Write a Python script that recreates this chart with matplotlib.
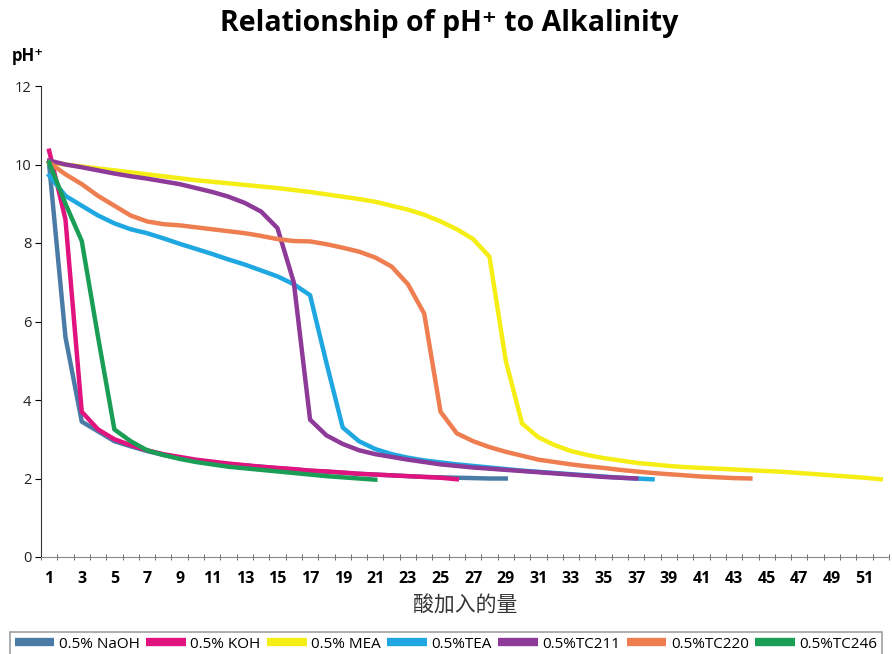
import numpy as np
import matplotlib
matplotlib.use('Agg')
import matplotlib.pyplot as plt

plt.rcParams['font.family'] = ['Open Sans', 'DejaVu Sans', 'Noto Sans CJK SC']

# pH readings per acid addition step (categories 1..n)
naoh = [10.0, 5.6, 3.45, 3.2, 2.95, 2.82, 2.7, 2.6, 2.52, 2.46, 2.41, 2.37, 2.33, 2.3, 2.26,
        2.23, 2.2, 2.17, 2.15, 2.12, 2.1, 2.08, 2.06, 2.04, 2.03, 2.02, 2.01, 2.0, 2.0]
koh = [10.35, 8.6, 3.7, 3.25, 3.0, 2.85, 2.72, 2.62, 2.55, 2.48, 2.43, 2.38, 2.34, 2.3, 2.27,
       2.24, 2.2, 2.18, 2.15, 2.12, 2.1, 2.08, 2.06, 2.04, 2.02, 1.98]
mea = [10.05, 10.0, 9.95, 9.9, 9.85, 9.8, 9.75, 9.7, 9.65, 9.6, 9.56, 9.52, 9.48, 9.44, 9.4,
       9.35, 9.3, 9.24, 9.18, 9.12, 9.05, 8.95, 8.85, 8.72, 8.55, 8.35, 8.1, 7.65, 5.0, 3.4,
       3.05, 2.85, 2.7, 2.6, 2.52, 2.46, 2.4, 2.36, 2.32, 2.29, 2.27, 2.25, 2.23, 2.21, 2.19,
       2.17, 2.14, 2.11, 2.08, 2.05, 2.02, 1.98]
tea = [9.72, 9.2, 8.95, 8.7, 8.5, 8.35, 8.25, 8.12, 7.98, 7.85, 7.72, 7.58, 7.45, 7.3, 7.15,
       6.95, 6.67, 4.95, 3.3, 2.95, 2.75, 2.62, 2.53, 2.46, 2.41, 2.36, 2.32, 2.28, 2.24, 2.2,
       2.17, 2.14, 2.11, 2.08, 2.05, 2.02, 2.0, 1.98]
tc211 = [10.1, 10.0, 9.93, 9.85, 9.77, 9.7, 9.64, 9.57, 9.5, 9.4, 9.3, 9.18, 9.02, 8.8, 8.38,
         7.0, 3.5, 3.1, 2.88, 2.72, 2.62, 2.55, 2.48, 2.42, 2.36, 2.32, 2.28, 2.25, 2.22, 2.19,
         2.16, 2.13, 2.1, 2.07, 2.04, 2.02, 2.0]
tc220 = [10.05, 9.75, 9.5, 9.2, 8.95, 8.7, 8.55, 8.48, 8.45, 8.4, 8.35, 8.3, 8.25, 8.18, 8.1,
         8.05, 8.04, 7.97, 7.88, 7.78, 7.63, 7.4, 6.95, 6.2, 3.7, 3.15, 2.95, 2.8, 2.68, 2.58,
         2.48, 2.42, 2.36, 2.31, 2.27, 2.22, 2.18, 2.14, 2.11, 2.08, 2.05, 2.03, 2.01, 2.0]
tc246 = [10.05, 9.0, 8.05, 5.6, 3.25, 2.95, 2.72, 2.6, 2.5, 2.42, 2.36, 2.3, 2.26, 2.22, 2.18,
         2.14, 2.1, 2.06, 2.03, 2.0, 1.97]

series = [naoh, koh, mea, tea, tc211, tc220, tc246]
labels = ['0.5% NaOH', '0.5% KOH', '0.5% MEA', '0.5%TEA', '0.5%TC211', '0.5%TC220', '0.5%TC246']
colors = ['#4a7ba7', '#e0137f', '#f5ee15', '#1ea7e1', '#8e3a98', '#ee7d50', '#1a9e55']
n_cat = 52

fig = plt.figure(figsize=(8.92, 6.54), dpi=100)
ax = fig.add_axes([41/892, 1-557/654, 848/892, (557-86)/654])

for vals, lab, c in zip(series, labels, colors):
    x = np.arange(1, len(vals)+1)
    ax.plot(x, vals, color=c, lw=3.2, label=lab, solid_joinstyle='round')

ax.set_xlim(0.5, n_cat+0.5)
ax.set_ylim(0, 12)
ax.set_yticks(range(0, 13, 2))
ax.set_xticks(range(1, n_cat+1, 2))
ax.set_xticks(np.arange(0.5, n_cat+1, 1), minor=True)
ax.tick_params(axis='x', which='major', length=0, pad=10, labelsize=11.5)
ax.tick_params(axis='x', which='minor', length=4, direction='inout', color='#555555')
for t in ax.get_xticklabels():
    t.set_fontweight('bold')
ax.tick_params(axis='y', length=4, direction='out', labelsize=10.5, pad=3, labelcolor='#222222')

for s in ['top', 'right']:
    ax.spines[s].set_visible(False)
ax.spines['left'].set_color('#333333')
ax.spines['bottom'].set_color('#888888')

fig.text(449/892, 1-23/654, 'Relationship of pH⁺ to Alkalinity', ha='center', va='center',
         fontsize=20.5, fontweight='bold')
fig.text(12/892, 1-56/654, 'pH⁺', ha='left', va='center', fontsize=12, fontweight='bold')
fig.text(465/892, 1-606/654, '酸加入的量', ha='center', va='center', fontsize=15,
         family=['Noto Sans CJK SC'], color='#333333')

leg = fig.legend(loc='upper left', bbox_to_anchor=(10/892, 0, 872/892, 1-632/654),
                 mode='expand', ncol=7, frameon=True, fancybox=False, fontsize=11,
                 handlelength=2.6, handletextpad=0.3, columnspacing=0.6, borderpad=0.3,
                 borderaxespad=0)
leg.get_frame().set_edgecolor('#888888')
leg.get_frame().set_linewidth(1.2)
for h in leg.get_lines():
    h.set_linewidth(6)
    h.set_solid_capstyle('butt')

fig.savefig('out.png', dpi=100)
